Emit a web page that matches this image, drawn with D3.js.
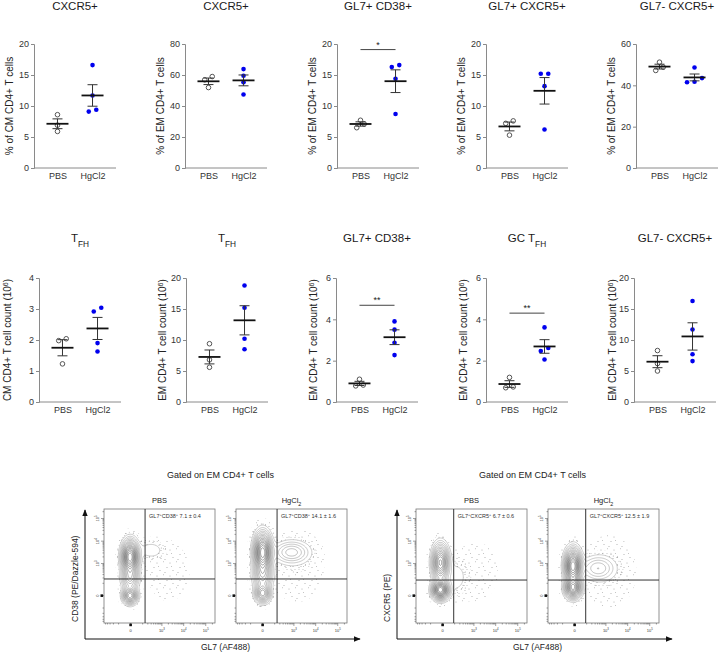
<!DOCTYPE html>
<html>
<head>
<meta charset="utf-8">
<script src="https://cdn.jsdelivr.net/npm/d3@7"></script>
<style>
  body { margin: 0; background: #fff; }
  svg { display: block; font-family: "Liberation Sans", Arial, sans-serif; }
</style>
</head>
<body>
<svg id="fig" width="720" height="653"></svg>
<script>
// ---------- data ----------
const groups = ["PBS", "HgCl2"];

// top row: frequencies (%)
const pctTitles = ["CXCR5+", "CXCR5+", "GL7+ CD38+", "GL7+ CXCR5+", "GL7- CXCR5+"];
const pctYLabels = ["% of CM CD4+ T cells", "% of EM CD4+ T cells", "% of EM CD4+ T cells",
                    "% of EM CD4+ T cells", "% of EM CD4+ T cells"];
const pctMax = [20, 80, 20, 20, 60];
const pctTicks = [[0, 5, 10, 15, 20], [0, 20, 40, 60, 80], [0, 5, 10, 15, 20], [0, 5, 10, 15, 20], [0, 20, 40, 60]];
const pctPBS = [[8.6, 6.9, 5.9], [59, 56.9, 51.9], [7.7, 6.5, 7.1], [7.6, 7.2, 5.3], [51.2, 48.8, 47.2]];
const pctHg = [[16.6, 11.7, 9.1, 9.4], [63.8, 59.5, 55.4, 47.4], [16.3, 16.6, 14.4, 8.7],
               [15.2, 15.2, 13.2, 6.2], [48.6, 43.5, 41.5, 41.7]];

// middle row: counts (10^6)
const cntTitles = ["T_FH", "T_FH", "GL7+ CD38+", "GC T_FH", "GL7- CXCR5+"];
const cntYLabels = ["CM CD4+ T cell count (10^6)", "EM CD4+ T cell count (10^6)", "EM CD4+ T cell count (10^6)",
                    "EM CD4+ T cell count (10^6)", "EM CD4+ T cell count (10^6)"];
const cntMax = [4, 20, 6, 6, 20];
const cntTicks = [[0, 1, 2, 3, 4], [0, 5, 10, 15, 20], [0, 2, 4, 6], [0, 2, 4, 6], [0, 5, 10, 15, 20]];
const cntPBS = [[2.04, 1.98, 1.23], [9.4, 6.8, 5.6], [1.1, 0.78, 0.82], [1.19, 0.69, 0.73], [8.3, 6.2, 5.0]];
const cntHg = [[2.92, 3.04, 1.9, 1.63], [18.8, 15.2, 10.2, 8.5], [3.9, 3.5, 2.87, 2.27],
               [3.61, 2.61, 2.47, 2.06], [16.3, 11.7, 7.7, 6.6]];

// significance brackets: [row, panel, height, label]
const sigMarks = [[0, 2, 19.1, "*"], [1, 2, 4.68, "**"], [1, 3, 4.3, "**"]];

// flow panels
const flowTitle = "Gated on EM CD4+ T cells";
const flowNames = ["PBS", "HgCl_2"];
const flowYLabels = ["CD38 (PE/Dazzle-594)", "CXCR5 (PE)"];
const flowXLabel = "GL7 (AF488)";
const flowNotes = [["GL7^+CD38^+ 7.1 ± 0.4", "GL7^+CD38^+ 14.1 ± 1.6"],
                   ["GL7^+CXCR5^+ 6.7 ± 0.6", "GL7^+CXCR5^+ 12.5 ± 1.9"]];
const flowGateGL7 = [140, 87];        // fluorescence units
const flowGateY = [177, 155];
const flowTickValues = [0, 1e3, 1e4, 1e5];
// populations on the display axes: [x, y, sdx, sdy, weight] (fraction of axis)
const cd38Pbs = [[0.235, 0.58, 0.04, 0.075, 1.0], [0.235, 0.24, 0.036, 0.04, 0.6],
                 [0.235, 0.40, 0.042, 0.06, 0.35], [0.42, 0.64, 0.075, 0.05, 0.045], [0.58, 0.45, 0.14, 0.19, 0.01]];
const cd38Hg = [[0.24, 0.62, 0.042, 0.09, 1.0], [0.24, 0.26, 0.038, 0.045, 0.5],
                [0.24, 0.42, 0.046, 0.07, 0.35], [0.50, 0.62, 0.09, 0.055, 0.18], [0.55, 0.5, 0.16, 0.21, 0.013]];
const cxPbs = [[0.22, 0.53, 0.04, 0.085, 0.75], [0.22, 0.29, 0.04, 0.045, 1.0],
               [0.36, 0.40, 0.065, 0.1, 0.04], [0.55, 0.45, 0.14, 0.19, 0.01]];
const cxHg = [[0.225, 0.50, 0.04, 0.08, 1.0], [0.225, 0.31, 0.04, 0.05, 0.8],
              [0.45, 0.48, 0.085, 0.06, 0.15], [0.55, 0.45, 0.16, 0.21, 0.013]];
const flowPops = [[cd38Pbs, cd38Hg], [cxPbs, cxHg]];

// ---------- helpers ----------
const svg = d3.select("#fig");
const defs = svg.append("defs");

function rich(text, str) {
  str.split(/(\^.|_[A-Z0-9]+)/).forEach(part => {
    if (!part) return;
    if (part[0] === "^") text.append("tspan").attr("baseline-shift", "super").attr("font-size", "70%").text(part.slice(1));
    else if (part[0] === "_") text.append("tspan").attr("baseline-shift", "sub").attr("font-size", "72%").text(part.slice(1));
    else text.append("tspan").text(part);
  });
  return text;
}

// spread points that sit on the same row
function spread(vals, y, rowH, step) {
  const sorted = vals.map((v, i) => ({v, i, py: y(v)})).sort((a, b) => b.py - a.py);
  const rowsOut = [];
  sorted.forEach(p => {
    const last = rowsOut[rowsOut.length - 1];
    if (last && Math.abs(last[0].py - p.py) < rowH) last.push(p);
    else rowsOut.push([p]);
  });
  rowsOut.forEach(r => r.forEach((p, k) => p.dx = (k - (r.length - 1) / 2) * step));
  return sorted;
}

// ---------- scatter panels ----------
const rows = [
  {top: 44, bottom: 168, titleY: 10, xs: [34, 185, 337, 486, 636], labX: [9, 160, 312, 461, 611],
   titles: pctTitles, ylabels: pctYLabels, max: pctMax, ticks: pctTicks, pbs: pctPBS, hg: pctHg},
  {top: 278, bottom: 402, titleY: 242, xs: [39, 186, 336, 486, 634], labX: [7, 162, 313, 463, 612],
   titles: cntTitles, ylabels: cntYLabels, max: cntMax, ticks: cntTicks, pbs: cntPBS, hg: cntHg}
];

rows.forEach((row, ri) => {
  row.xs.forEach((x0, pi) => {
    const g = svg.append("g");
    const x = d3.scalePoint().domain(groups).range([x0, x0 + 82]).padding(0.67);
    const y = d3.scaleLinear().domain([0, row.max[pi]]).range([row.bottom, row.top]);

    // title
    rich(g.append("text").attr("x", x0 + 41).attr("y", row.titleY).attr("text-anchor", "middle")
      .attr("font-size", 11.5).attr("fill", "#1a1a1a"), row.titles[pi]);

    // y label
    rich(g.append("text").attr("transform", `translate(${row.labX[pi]},${(row.top + row.bottom) / 2}) rotate(-90)`)
      .attr("dy", "0.35em").attr("text-anchor", "middle").attr("font-size", 10).attr("fill", "#222"), row.ylabels[pi]);

    // axes
    const ya = g.append("g").attr("transform", `translate(${x0},0)`)
      .call(d3.axisLeft(y).tickValues(row.ticks[pi]).tickSize(3).tickPadding(2).tickFormat(d3.format("d")));
    ya.select(".domain").attr("stroke", "#8a8a8a");
    ya.selectAll(".tick line").attr("stroke", "#8a8a8a");
    ya.selectAll("text").attr("font-size", 9).attr("fill", "#333").attr("font-family", null);

    const xa = g.append("g").attr("transform", `translate(0,${row.bottom})`)
      .call(d3.axisBottom(x).tickSize(0).tickPadding(5));
    xa.select(".domain").attr("stroke", "#8a8a8a").attr("d", `M${x0},0H${x0 + 82}`);
    xa.selectAll("text").attr("font-size", 9).attr("fill", "#333").attr("font-family", null);

    // data
    [[row.pbs[pi], "PBS"], [row.hg[pi], "HgCl2"]].forEach(([vals, grp]) => {
      const cx = x(grp);
      const m = d3.mean(vals);
      const sem = d3.deviation(vals) / Math.sqrt(vals.length);
      const pts = spread(vals, y, 4.5, 7.5);
      g.selectAll(null).data(pts).join("circle")
        .attr("cx", d => cx + d.dx).attr("cy", d => d.py).attr("r", 2.3)
        .attr("fill", grp === "PBS" ? "#fff" : "#0000ee")
        .attr("stroke", grp === "PBS" ? "#555" : "none").attr("stroke-width", 1);
      // SEM
      g.append("path").attr("d",
        `M${cx},${y(m + sem)}V${y(m - sem)}M${cx - 5},${y(m + sem)}H${cx + 5}M${cx - 5},${y(m - sem)}H${cx + 5}`)
        .attr("stroke", "#333").attr("stroke-width", 1).attr("fill", "none");
      // mean
      g.append("line").attr("x1", cx - 11).attr("x2", cx + 11).attr("y1", y(m)).attr("y2", y(m))
        .attr("stroke", "#111").attr("stroke-width", 1.8);
    });

    sigMarks.filter(s => s[0] === ri && s[1] === pi).forEach(s => {
      g.append("line").attr("x1", x("PBS")).attr("x2", x("HgCl2")).attr("y1", y(s[2])).attr("y2", y(s[2]))
        .attr("stroke", "#444").attr("stroke-width", 1);
      g.append("text").attr("x", (x("PBS") + x("HgCl2")) / 2).attr("y", y(s[2]) - 2)
        .attr("text-anchor", "middle").attr("font-size", 9).attr("fill", "#222").text(s[3]);
    });
  });
});

// ---------- flow panels ----------
const pat = (id, size, pts) => {
  const p = defs.append("pattern").attr("id", id).attr("width", size).attr("height", size)
    .attr("patternUnits", "userSpaceOnUse");
  p.selectAll("circle").data(pts).join("circle").attr("cx", d => d[0]).attr("cy", d => d[1])
    .attr("r", 0.4).attr("fill", "#555");
};
pat("dotsSparse", 13, [[1, 2], [7.5, 0.8], [11, 6.5], [4, 9.5], [9, 11.5], [2.5, 5.6]]);
pat("dotsDense", 8, [[1, 1.5], [5.2, 0.7], [3, 4.6], [7, 4.2], [1.2, 7], [5.4, 7.3]]);

defs.append("marker").attr("id", "arrow").attr("viewBox", "0 0 10 10").attr("refX", 9).attr("refY", 5)
  .attr("markerWidth", 7).attr("markerHeight", 7).attr("orient", "auto-start-reverse")
  .append("path").attr("d", "M0,1L10,5L0,9z").attr("fill", "#111");

const boxW = 111, boxH = 114, boxTop = 509;
const groupAxisX = [85, 397];
const boxOffsets = [19, 151];
const levels = [0.03, 0.055, 0.085, 0.12, 0.16, 0.21, 0.26, 0.32, 0.39, 0.46, 0.54, 0.62, 0.71, 0.8, 0.9];
const lineShade = d3.scaleLinear().domain([0.03, 0.5, 0.9]).range(["#8c8c8c", "#3a3a3a", "#2a2a2a"]);

function minorTicks() {
  const t = [-500, -400, -300, -200, -100, 100];
  [2, 3, 4].forEach(d => d3.range(2, 10).forEach(k => t.push(k * Math.pow(10, d))));
  [2].forEach(k => t.push(k * 1e5));
  return t;
}

groupAxisX.forEach((ax, gi) => {
  const g = svg.append("g");
  const cx = ax + (boxOffsets[0] + boxOffsets[1] + boxW) / 2;

  g.append("text").attr("x", cx - 5).attr("y", 478).attr("text-anchor", "middle")
    .attr("font-size", 9).attr("fill", "#222").text(flowTitle);

  // outer arrows
  g.append("path").attr("d", `M${ax},639V510`).attr("stroke", "#111").attr("stroke-width", 1)
    .attr("marker-end", "url(#arrow)");
  g.append("path").attr("d", `M${ax},639H${ax + 275}`).attr("stroke", "#111").attr("stroke-width", 1)
    .attr("marker-end", "url(#arrow)");
  g.append("text").attr("transform", `translate(${ax - 10},622) rotate(-90)`).attr("dy", "0.35em")
    .attr("font-size", 8.5).attr("fill", "#222").text(flowYLabels[gi]);
  g.append("text").attr("x", cx).attr("y", 650).attr("text-anchor", "middle")
    .attr("font-size", 8.5).attr("fill", "#222").text(flowXLabel);

  boxOffsets.forEach((off, bi) => {
    const bx = ax + off;
    const xs = d3.scaleSymlog().constant(40).domain([-600, 262144]).range([bx, bx + boxW]);
    const ys = d3.scaleSymlog().constant(40).domain([-600, 262144]).range([boxTop + boxH, boxTop]);

    rich(g.append("text").attr("x", bx + boxW / 2).attr("y", 503).attr("text-anchor", "middle")
      .attr("font-size", 7.5).attr("fill", "#222"), flowNames[bi]);

    // density grid from the population specs
    const pops = flowPops[gi][bi];
    const nx = boxW, ny = boxH;
    const values = new Float64Array(nx * ny);
    for (let j = 0; j < ny; j++) {
      const v = 1 - (j + 0.5) / ny;
      for (let i = 0; i < nx; i++) {
        const u = (i + 0.5) / nx;
        let s = 0;
        for (const [pu, pv, su, sv, w] of pops) {
          const dx = (u - pu) / su, dy = (v - pv) / sv;
          s += w * Math.exp(-0.5 * (dx * dx + dy * dy));
        }
        values[j * nx + i] = s;
      }
    }
    const vmax = d3.max(values);
    const gen = d3.contours().size([nx, ny]);
    const path = d3.geoPath();

    const clipId = `clip${gi}${bi}`;
    defs.append("clipPath").attr("id", clipId).append("rect")
      .attr("x", 0).attr("y", 0).attr("width", boxW).attr("height", boxH);
    const cg = g.append("g").attr("transform", `translate(${bx},${boxTop})`).attr("clip-path", `url(#${clipId})`);
    cg.append("path").attr("d", path(gen.contour(values, vmax * 0.004))).attr("fill", "url(#dotsSparse)");
    cg.append("path").attr("d", path(gen.contour(values, vmax * 0.013))).attr("fill", "url(#dotsDense)");
    cg.append("path").attr("d", path(gen.contour(values, vmax * levels[0]))).attr("fill", "#fff");
    cg.selectAll(null).data(levels).join("path")
      .attr("d", t => path(gen.contour(values, vmax * t)))
      .attr("fill", "none").attr("stroke", t => lineShade(t)).attr("stroke-width", 0.45);

    // box and gates
    g.append("rect").attr("x", bx).attr("y", boxTop).attr("width", boxW).attr("height", boxH)
      .attr("fill", "none").attr("stroke", "#777").attr("stroke-width", 0.8);
    g.append("line").attr("x1", xs(flowGateGL7[gi])).attr("x2", xs(flowGateGL7[gi]))
      .attr("y1", boxTop).attr("y2", boxTop + boxH).attr("stroke", "#333").attr("stroke-width", 1);
    g.append("line").attr("x1", bx).attr("x2", bx + boxW).attr("y1", ys(flowGateY[gi])).attr("y2", ys(flowGateY[gi]))
      .attr("stroke", "#333").attr("stroke-width", 1);
    rich(g.append("text").attr("x", xs(flowGateGL7[gi]) + 4).attr("y", boxTop + 9)
      .attr("font-size", 5.5).attr("fill", "#333"), flowNotes[gi][bi]);

    // ticks
    const tk = g.append("g").attr("stroke", "#444").attr("stroke-width", 0.5);
    flowTickValues.forEach(t => {
      tk.append("line").attr("x1", bx - 3).attr("x2", bx).attr("y1", ys(t)).attr("y2", ys(t));
      tk.append("line").attr("y1", boxTop + boxH).attr("y2", boxTop + boxH + 3).attr("x1", xs(t)).attr("x2", xs(t));
      const lab = t === 0 ? "0" : "10^" + Math.round(Math.log10(t));
      rich(g.append("text").attr("transform", `translate(${bx - 6},${ys(t)}) rotate(-90)`)
        .attr("text-anchor", "middle").attr("dy", "0.35em").attr("font-size", 4).attr("fill", "#333"), lab);
      rich(g.append("text").attr("x", xs(t)).attr("y", boxTop + boxH + 8.5).attr("text-anchor", "middle")
        .attr("font-size", 4).attr("fill", "#333"), lab);
    });
    minorTicks().forEach(t => {
      tk.append("line").attr("x1", bx - 1.5).attr("x2", bx).attr("y1", ys(t)).attr("y2", ys(t));
      tk.append("line").attr("y1", boxTop + boxH).attr("y2", boxTop + boxH + 1.5).attr("x1", xs(t)).attr("x2", xs(t));
    });
    g.append("rect").attr("x", bx - 3.5).attr("y", ys(0) - 1.3).attr("width", 2.6).attr("height", 2.6).attr("fill", "#111");
    g.append("rect").attr("x", xs(0) - 1.3).attr("y", boxTop + boxH + 0.6).attr("width", 2.6).attr("height", 2.6).attr("fill", "#111");
  });
});
</script>
</body>
</html>
